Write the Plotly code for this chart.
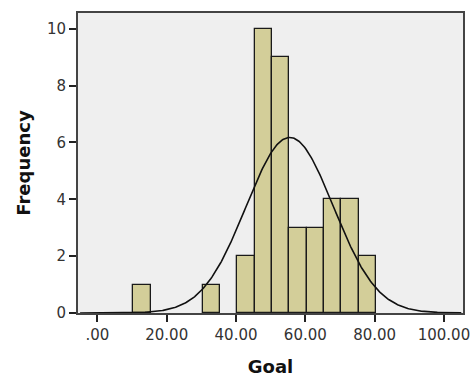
import numpy as np
import plotly.graph_objects as go

# Histogram of Goal scores (bin width 5)
bin_starts = [10.4, 15.4, 20.4, 25.4, 30.4, 35.4, 40.4, 45.4, 50.4, 55.4, 60.4, 65.4, 70.4, 75.4]
counts = [1, 0, 0, 0, 1, 0, 2, 10, 9, 3, 3, 4, 4, 2]
bin_width = 5.0

# Fitted normal curve parameters
goal_mean = 55.5
goal_sd = 12.6
n_total = sum(counts)

x_ticks = [0, 20, 40, 60, 80, 100]
x_tick_labels = [".00", "20.00", "40.00", "60.00", "80.00", "100.00"]
y_ticks = [0, 2, 4, 6, 8, 10]

centers = [s + bin_width / 2 for s in bin_starts]
xs = [c for c, k in zip(centers, counts) if k > 0]
ys = [k for k in counts if k > 0]

curve_x = np.linspace(-5, 105, 400)
curve_y = n_total * bin_width * np.exp(-0.5 * ((curve_x - goal_mean) / goal_sd) ** 2) / (goal_sd * np.sqrt(2 * np.pi))

fig = go.Figure()
fig.add_trace(go.Bar(
    x=xs, y=ys, width=bin_width,
    marker=dict(color="#D3CE99", line=dict(color="#1a1a1a", width=1.3)),
    showlegend=False, hoverinfo="skip",
))
fig.add_trace(go.Scatter(
    x=curve_x, y=curve_y, mode="lines",
    line=dict(color="#111111", width=1.6),
    showlegend=False, hoverinfo="skip",
))

font_family = "DejaVu Sans"
fig.update_layout(
    width=472, height=377,
    margin=dict(l=78, r=9, t=13, b=64),
    paper_bgcolor="white",
    plot_bgcolor="#EFEFEF",
    font=dict(family=font_family, size=15, color="#333333"),
    bargap=0,
    xaxis=dict(
        range=[-5.6, 105.5], automargin=False,
        tickvals=x_ticks, ticktext=x_tick_labels,
        ticks="outside", ticklen=7, tickwidth=1.5, tickcolor="#222222",
        showgrid=False, zeroline=False,
        showline=True, linecolor="#444444", linewidth=2, mirror=True,
        title=dict(text="<b>Goal</b>", font=dict(size=18, color="#111111"), standoff=19),
        tickfont=dict(size=15, color="#333333"),
    ),
    yaxis=dict(
        range=[0, 10.55], automargin=False,
        tickvals=y_ticks,
        ticks="outside", ticklen=7, tickwidth=1.5, tickcolor="#222222",
        showgrid=False, zeroline=False,
        showline=True, linecolor="#444444", linewidth=2, mirror=True,
        title=dict(text="<b>Frequency</b>", font=dict(size=18, color="#111111"), standoff=12),
        tickfont=dict(size=15, color="#333333"),
    ),
)

fig.write_html("out.html")
